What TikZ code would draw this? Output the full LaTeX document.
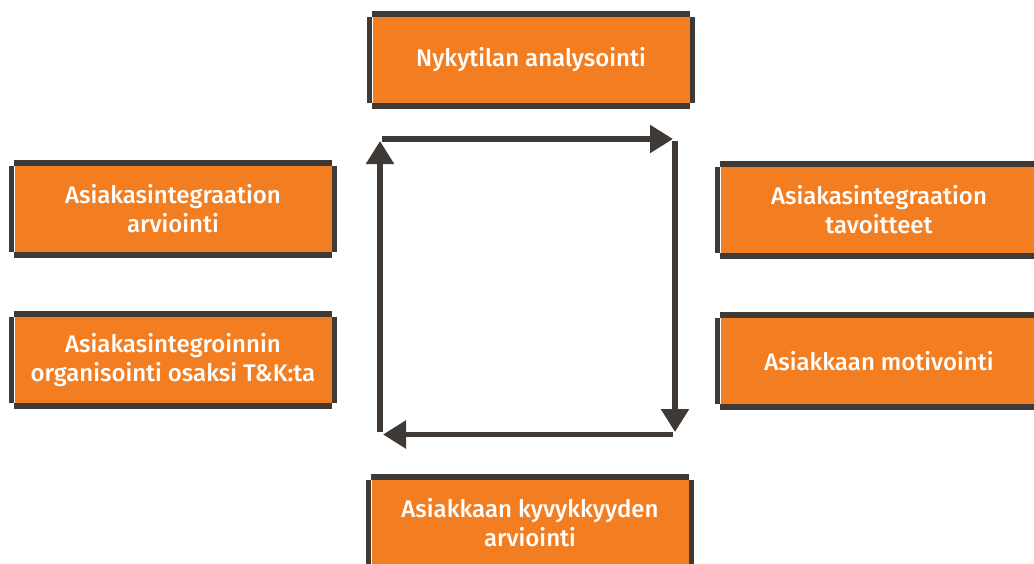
\documentclass[tikz,border=0pt]{standalone}
\usepackage{fontspec}
\newfontfamily\boxfont{Fira Sans Medium}
\usetikzlibrary{arrows.meta}
\definecolor{boxorange}{HTML}{F37E22}
\definecolor{darkline}{HTML}{3F3A36}
\tikzset{
  stage/.style={rectangle, fill=boxorange, inner sep=0pt, minimum width=317pt,
    minimum height=86pt, align=center, text=white,
    font=\boxfont\fontsize{24}{29}\selectfont},
  rim/.style={draw=darkline, line width=5.5pt, line cap=butt},
  flow/.style={draw=darkline, line width=5.5pt, line cap=butt,
    -{Triangle[length=23pt,width=27pt]}}
}
\begin{document}
\begin{tikzpicture}[x=1pt,y=-1pt]
  \useasboundingbox (0,0) rectangle (1034,563);
  \begin{scope}
    \clip (0,0) rectangle (1034,563);
    % stage boxes
    \node[stage] (nyky) at (531,60) {Nykytilan analysointi};
    \node[stage] (arv) at (173,209) {Asiakasintegraation\\arviointi};
    \node[stage] (org) at (173,360) {Asiakasintegroinnin\\organisointi osaksi T\&K:ta};
    \node[stage] (tav) at (879,210) {Asiakasintegraation\\tavoitteet};
    \node[stage] (mot) at (879,361) {Asiakkaan motivointi};
    \node[stage] (kyv) at (530,523) {Asiakkaan kyvykkyyden\\arviointi};
    % dark edges along each side, open at the corners
    \foreach \n in {nyky,arv,org,tav,mot,kyv}{
      \draw[rim] ([yshift=2.75pt]\n.north west) -- ([yshift=2.75pt]\n.north east);
      \draw[rim] ([yshift=-2.75pt]\n.south west) -- ([yshift=-2.75pt]\n.south east);
      \draw[rim] ([xshift=-2.75pt]\n.north west) -- ([xshift=-2.75pt]\n.south west);
      \draw[rim] ([xshift=2.75pt]\n.north east) -- ([xshift=2.75pt]\n.south east);
    }
  \end{scope}
  % the cycle of arrows
  \coordinate (tl) at (382,139);
  \coordinate (tr) at (673,139);
  \coordinate (rt) at (675,141);
  \coordinate (rb) at (675,432);
  \coordinate (br) at (673,434.5);
  \coordinate (bl) at (383,434.5);
  \coordinate (lb) at (380,432);
  \coordinate (lt) at (380,141);
  \draw[flow] (tl) -- (tr);
  \draw[flow] (rt) -- (rb);
  \draw[flow] (br) -- (bl);
  \draw[flow] (lb) -- (lt);
\end{tikzpicture}
\end{document}
